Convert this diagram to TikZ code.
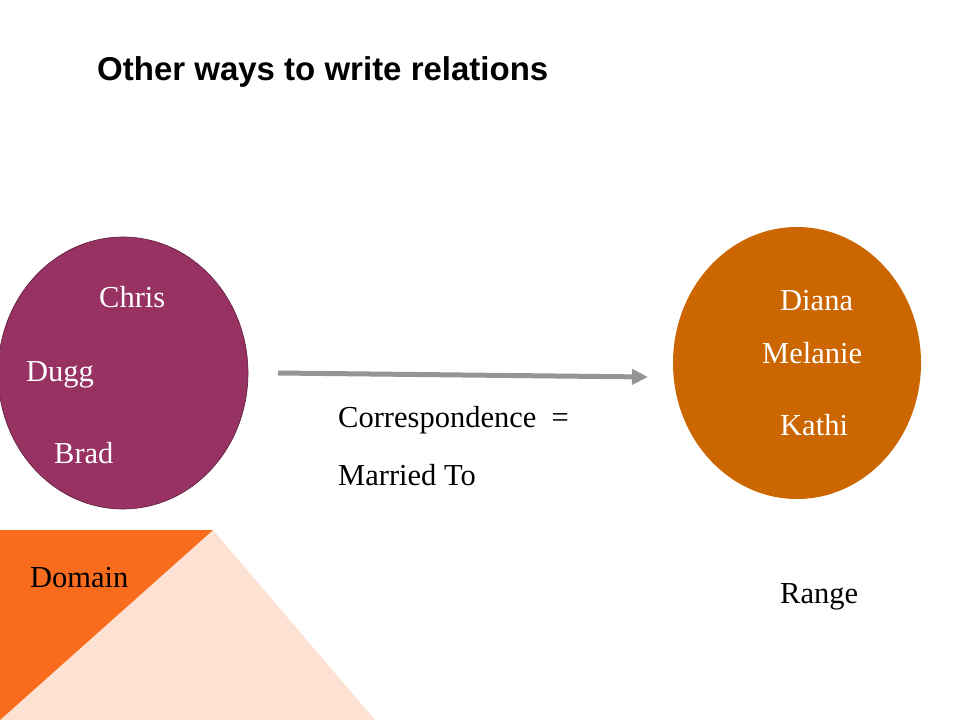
\documentclass[tikz,border=0pt]{standalone}
\usepackage{fontspec}
\setmainfont{Liberation Serif}
\newfontfamily\titlefont{Liberation Sans}
\usetikzlibrary{arrows.meta}
\definecolor{plum}{HTML}{983263}
\definecolor{rust}{HTML}{CC6600}
\definecolor{flame}{HTML}{F96C1E}
\definecolor{peach}{HTML}{FDE1D3}
\definecolor{arrowgray}{HTML}{959595}

\begin{document}
\begin{tikzpicture}[x=1pt, y=-1pt,
        spouse/.style={anchor=base west, inner sep=0pt, text=white, font=\fontsize{30.5}{36}\selectfont},
        word/.style={anchor=base west, inner sep=0pt, text=black, font=\fontsize{30.5}{36}\selectfont}]
        \useasboundingbox (0,0) rectangle (960,720);

        \fill[peach] (0,720)--(213,530)--(375,720)--cycle;
        \fill[flame] (0,530)--(213,530)--(0,720)--cycle;

        \draw[fill=plum, draw=plum!60!black, line width=0.6pt] (123,373) ellipse [x radius=125, y radius=136];
        \fill[rust] (797,363) ellipse [x radius=124, y radius=136];

        \node[anchor=base west, inner sep=0pt, font=\titlefont\bfseries\fontsize{33}{39}\selectfont] (title) at (97,80) {Other ways to write relations};

        \node[spouse] (chris) at (99,307) {Chris};
        \node[spouse] (dugg) at (26,381) {Dugg};
        \node[spouse] (brad) at (54,463) {Brad};
        \node[spouse] (diana) at (780,310) {Diana};
        \node[spouse] (melanie) at (762,363) {Melanie};
        \node[spouse] (kathi) at (780,435) {Kathi};

        \node[word] (corr) at (338,427) {Correspondence\ \ =};
        \node[word] (married) at (338,485) {Married To};
        \node[word] (domain) at (30,587) {Domain};
        \node[word] (range) at (780,603) {Range};

        \coordinate (from) at (278,373);
        \coordinate (to) at (648,377);
        \draw[-{Triangle[length=16pt, width=15pt]}, line width=5pt, arrowgray] (from)--(to);

    \end{tikzpicture}
\end{document}
